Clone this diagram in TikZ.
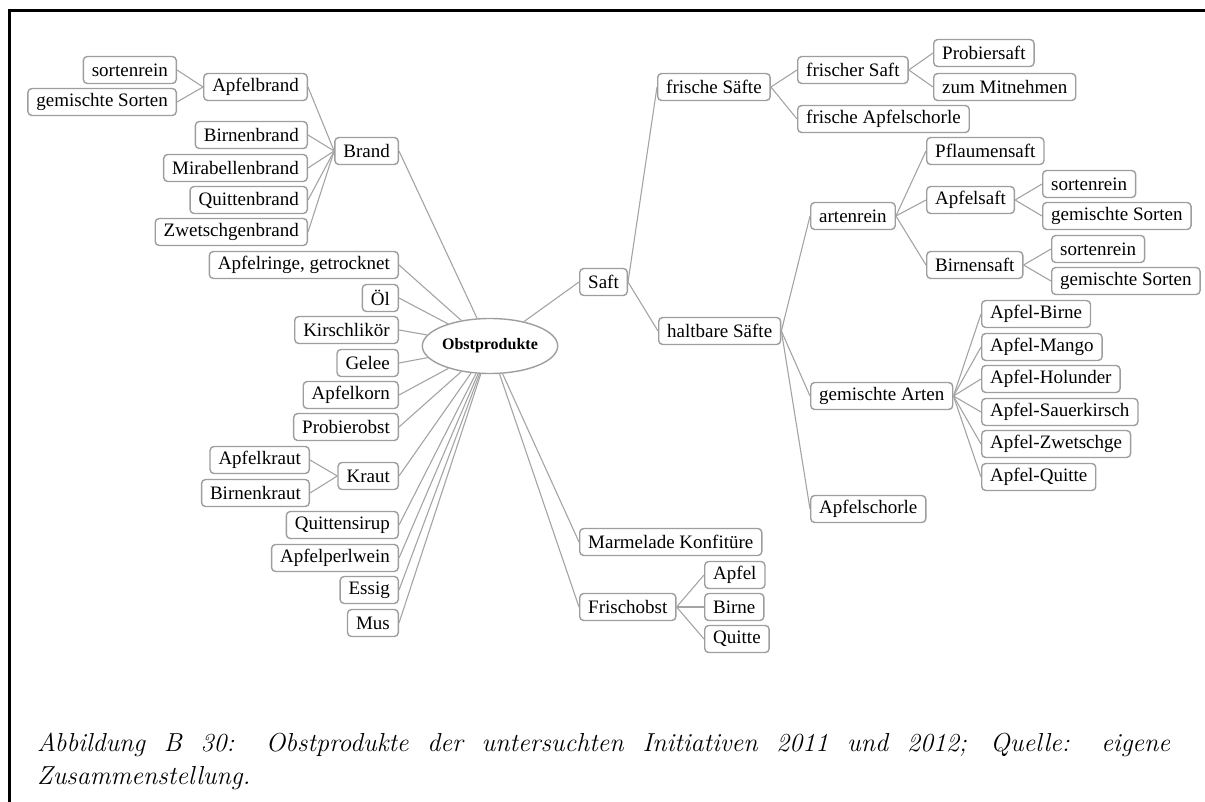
\documentclass[tikz,border=0pt]{standalone}
\usepackage{fontspec}
\setmainfont{Liberation Serif}
\newfontfamily\mapfont{Liberation Serif}
\newfontfamily\captfont{Latin Modern Roman}
\usetikzlibrary{shapes.geometric}
\definecolor{c1}{HTML}{000000}
\definecolor{boxgray}{HTML}{9E9E9E}
\definecolor{linkgray}{HTML}{A4A4A4}

\begin{document}
\begin{tikzpicture}[
    x=1pt, y=-1pt,
    leaf/.style={rectangle, rounded corners=4pt, draw=boxgray, fill=white,
                 line width=1.4pt, minimum height=27pt, inner xsep=8.5pt,
                 inner ysep=2pt, font=\mapfont\fontsize{19}{22}\selectfont},
    root/.style={ellipse, draw=boxgray, fill=white, line width=1.4pt,
                 minimum width=125pt, minimum height=55pt, inner sep=0pt,
                 font=\mapfont\bfseries\fontsize{16}{19}\selectfont},
    link/.style={linkgray, line width=1.1pt},
    capt/.style={font=\captfont\itshape\fontsize{26}{33}\selectfont, text=c1,
                 text width=1133pt, align=justify, inner sep=0pt},
]
\useasboundingbox (0,0) rectangle (1205,802);

% frame
\draw[c1, line width=3pt] (9.5,802) -- (9.5,10.5) -- (1205,10.5);

\node[root] (obst) at (490,346) {Obstprodukte};

% ================================================================ left side
\node[leaf, anchor=east] (brand)    at (399,151) {Brand};
\node[leaf, anchor=east] (ringe)    at (399,265) {Apfelringe, getrocknet};
\node[leaf, anchor=east] (oel)      at (399,298) {Öl};
\node[leaf, anchor=east] (kirsch)   at (399,330) {Kirschlikör};
\node[leaf, anchor=east] (gelee)    at (399,363) {Gelee};
\node[leaf, anchor=east] (korn)     at (399,395) {Apfelkorn};
\node[leaf, anchor=east] (pobst)    at (399,427) {Probierobst};
\node[leaf, anchor=east] (kraut)    at (399,476) {Kraut};
\node[leaf, anchor=east] (sirup)    at (399,525) {Quittensirup};
\node[leaf, anchor=east] (perl)     at (399,558) {Apfelperlwein};
\node[leaf, anchor=east] (essig)    at (399,590) {Essig};
\node[leaf, anchor=east] (mus)      at (399,623) {Mus};

\node[leaf, anchor=east] (abrand)   at (308,87)  {Apfelbrand};
\node[leaf, anchor=east] (bbrand)   at (308,135) {Birnenbrand};
\node[leaf, anchor=east] (mbrand)   at (308,168) {Mirabellenbrand};
\node[leaf, anchor=east] (qbrand)   at (308,200) {Quittenbrand};
\node[leaf, anchor=east] (zbrand)   at (308,232) {Zwetschgenbrand};

\node[leaf, anchor=east] (abrsr)    at (177,70)  {sortenrein};
\node[leaf, anchor=east] (abrgs)    at (177,102) {gemischte Sorten};

\node[leaf, anchor=east] (akraut)   at (310,460) {Apfelkraut};
\node[leaf, anchor=east] (bkraut)   at (310,493) {Birnenkraut};

\foreach \n in {brand,ringe,oel,kirsch,gelee,korn,pobst,kraut,sirup,perl,essig,mus}
  \draw[link] (obst) -- (\n.east);
\foreach \n in {abrand,bbrand,mbrand,qbrand,zbrand}
  \draw[link] (brand.west) -- (\n.east);
\draw[link] (abrand.west) -- (abrsr.east);
\draw[link] (abrand.west) -- (abrgs.east);
\draw[link] (kraut.west) -- (akraut.east);
\draw[link] (kraut.west) -- (bkraut.east);

% =============================================================== right side
\node[leaf, anchor=west] (saft)     at (579,282) {Saft};
\node[leaf, anchor=west] (marm)     at (579,542) {Marmelade Konfitüre};
\node[leaf, anchor=west] (fobst)    at (579,607) {Frischobst};

\node[leaf, anchor=west] (apfel)    at (704,575) {Apfel};
\node[leaf, anchor=west] (birne)    at (704,607) {Birne};
\node[leaf, anchor=west] (quitte)   at (704,639) {Quitte};

\node[leaf, anchor=west] (fsaefte)  at (657,87)  {frische Säfte};
\node[leaf, anchor=west] (hsaefte)  at (658,331) {haltbare Säfte};

\node[leaf, anchor=west] (fsaft)    at (797,70)  {frischer Saft};
\node[leaf, anchor=west] (fschorle) at (797,119) {frische Apfelschorle};
\node[leaf, anchor=west] (probier)  at (933,53)  {Probiersaft};
\node[leaf, anchor=west] (mitnehm)  at (933,87)  {zum Mitnehmen};

\node[leaf, anchor=west] (artrein)  at (810,216) {artenrein};
\node[leaf, anchor=west] (gemarten) at (810,396) {gemischte Arten};
\node[leaf, anchor=west] (aschorle) at (810,509) {Apfelschorle};

\node[leaf, anchor=west] (pflaume)  at (926,151) {Pflaumensaft};
\node[leaf, anchor=west] (asaft)    at (926,200) {Apfelsaft};
\node[leaf, anchor=west] (bsaft)    at (926,265) {Birnensaft};
\node[leaf, anchor=west] (asasr)    at (1042,184) {sortenrein};
\node[leaf, anchor=west] (asags)    at (1042,216) {gemischte Sorten};
\node[leaf, anchor=west] (bsasr)    at (1051,249) {sortenrein};
\node[leaf, anchor=west] (bsags)    at (1051,281) {gemischte Sorten};

\node[leaf, anchor=west] (mbirne)   at (981,314) {Apfel-Birne};
\node[leaf, anchor=west] (mmango)   at (981,347) {Apfel-Mango};
\node[leaf, anchor=west] (mholu)    at (981,379) {Apfel-Holunder};
\node[leaf, anchor=west] (msauer)   at (981,412) {Apfel-Sauerkirsch};
\node[leaf, anchor=west] (mzwet)    at (981,444) {Apfel-Zwetschge};
\node[leaf, anchor=west] (mquitte)  at (981,477) {Apfel-Quitte};

\foreach \n in {saft,marm,fobst}
  \draw[link] (obst) -- (\n.west);
\foreach \n in {apfel,birne,quitte}
  \draw[link] (fobst.east) -- (\n.west);
\draw[link] (saft.east) -- (fsaefte.west);
\draw[link] (saft.east) -- (hsaefte.west);
\draw[link] (fsaefte.east) -- (fsaft.west);
\draw[link] (fsaefte.east) -- (fschorle.west);
\draw[link] (fsaft.east) -- (probier.west);
\draw[link] (fsaft.east) -- (mitnehm.west);
\foreach \n in {artrein,gemarten,aschorle}
  \draw[link] (hsaefte.east) -- (\n.west);
\foreach \n in {pflaume,asaft,bsaft}
  \draw[link] (artrein.east) -- (\n.west);
\draw[link] (asaft.east) -- (asasr.west);
\draw[link] (asaft.east) -- (asags.west);
\draw[link] (bsaft.east) -- (bsasr.west);
\draw[link] (bsaft.east) -- (bsags.west);
\foreach \n in {mbirne,mmango,mholu,msauer,mzwet,mquitte}
  \draw[link] (gemarten.east) -- (\n.west);

% caption
\node[capt, anchor=north west] (cap) at (37,733)
     {Abbildung B 30: Obstprodukte der untersuchten Initiativen 2011 und 2012;
      Quelle: eigene\linebreak Zusammenstellung.};

\end{tikzpicture}
\end{document}
